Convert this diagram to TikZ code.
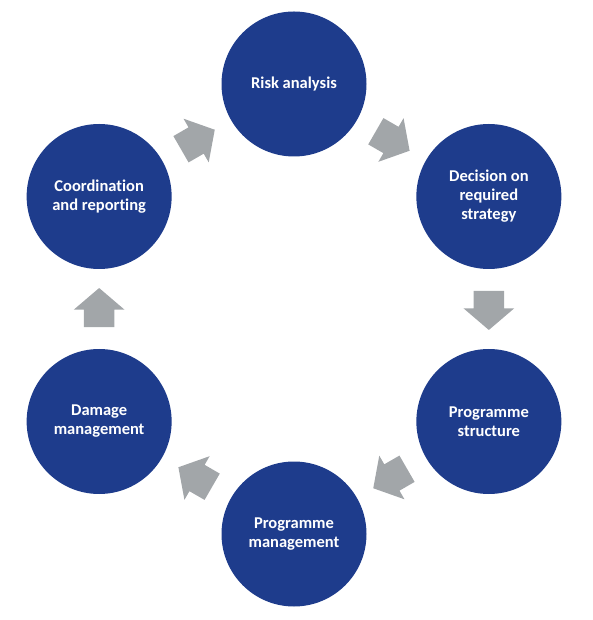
\documentclass[tikz,border=0pt]{standalone}
\usepackage{fontspec}
\setsansfont{Carlito}[Ligatures=NoCommon]
\usetikzlibrary{calc,shapes.arrows}
\definecolor{stageblue}{HTML}{1E3C8C}
\definecolor{flowgray}{HTML}{A2A6A9}
\tikzset{
  stage/.style={circle, fill=stageblue, minimum size=145pt, inner sep=0pt,
    text=white, align=center, font=\sffamily\bfseries\fontsize{16.5}{19}\selectfont},
  flow/.style={single arrow, fill=flowgray, inner xsep=0pt, inner ysep=15pt,
    minimum height=39pt, single arrow head extend=10pt, single arrow tip angle=99}
}
\begin{document}
\begin{tikzpicture}[x=1pt, y=1pt]
  \useasboundingbox (-294,-311) rectangle (298,309);
  % stages of the cycle
  \foreach \name/\ang/\txt in {risk/90/{Risk analysis},
      decision/30/{Decision on\\required\\strategy},
      structure/-30/{Programme\\structure},
      progman/-90/{Programme\\management},
      damage/-150/{Damage\\management},
      coord/150/{Coordination\\and reporting}} {
    \node[stage] (\name) at (\ang:225) {\txt};
  }
  % arrows between stages
  \foreach \a/\b/\ang in {risk/decision/-30, decision/structure/-90,
      structure/progman/-150, progman/damage/150, damage/coord/90, coord/risk/30} {
    \node[flow, rotate=\ang, xshift=-5pt] (\a-\b) at ($(\a)!0.5!(\b)$) {};
  }
\end{tikzpicture}
\end{document}
